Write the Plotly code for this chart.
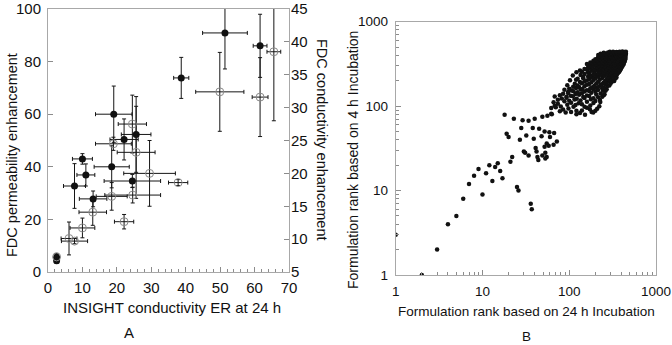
import plotly.graph_objects as go

# ---------------- Panel A data ----------------
# FDC permeability enhancement (filled circles, left axis)
perm_x = [2.5, 2.5, 7.7, 10, 11, 13.1, 18.5, 19.1, 22.1, 24.5, 25.6, 38.7, 51.4, 61.6]
perm_y = [4.3, 5.6, 32.7, 43, 36.9, 27.8, 40, 60, 50.4, 34.6, 52.3, 73.8, 90.9, 86]
perm_xerr = [0.3, 0.3, 3.2, 2.9, 2.6, 4, 5.1, 5.3, 4.1, 8.2, 4.3, 2.2, 6.5, 2]
perm_yerr = [1, 1.5, 8.5, 2, 4.2, 3, 8, 10.7, 7.8, 2.5, 14.4, 7.8, 13.7, 12]

# FDC conductivity enhancement (open circles, right axis)
cond_x = [2.5, 6.1, 7.7, 10, 13, 18.5, 19, 22.1, 24.5, 24.6, 25.6, 29.5, 37.8, 49.9, 61.6, 65.6]
cond_y = [7.3, 10.1, 9.7, 11.7, 14.1, 16.5, 24.5, 12.65, 27.5, 16.7, 23.2, 20, 18.6, 32.4, 31.6, 38.5]
cond_xerr = [0.3, 2.3, 3.8, 3.6, 4, 4.5, 5.2, 2.8, 4.1, 8.1, 5.5, 7.5, 2.8, 7, 2.3, 2]
cond_yerr_plus = [0.5, 2.5, 0.4, 1.5, 2, 2.1, 1, 1.1, 4.4, 1.2, 7, 5, 0.45, 6, 6, 7]
cond_yerr_minus = [0.5, 2.5, 0.4, 1.5, 2, 2.1, 1, 1.1, 4.4, 1.2, 7, 5, 0.45, 6, 6, 10.5]

# ---------------- Panel B data ----------------
rank_24h = [
    1, 2, 3, 4, 5, 6, 7, 8, 9, 10, 11, 12, 13, 14, 15, 16, 17, 21, 22, 25, 26, 36, 37,
    18, 23, 29, 34, 40, 49, 56, 63,
    19, 20, 28, 27, 32, 39, 38, 45, 48, 52, 59, 67, 60, 72, 66, 55, 52, 58, 41, 42, 53, 49, 55, 30, 31, 34, 43, 44, 53,
    62, 91, 121, 133, 152, 181,
    78, 105, 121, 189,
    85, 140, 173, 200,
    62, 70, 98, 112, 160, 210,
    68, 80, 118, 150, 175, 222,
    74, 95, 128, 140, 190,
    66, 88, 105, 160, 200, 228,
    74, 100, 115, 135, 178, 226,
    82, 93, 122, 150, 190, 215,
    68, 93, 110, 145, 170, 240,
    78, 104, 130, 160, 205, 250,
    85, 97, 118, 140, 180, 230, 255,
    97, 112, 125, 150, 170, 200, 245,
    88, 106, 135, 160, 190, 215, 262,
    100, 120, 142, 175, 205, 240, 270,
    111, 130, 150, 185, 220, 250, 275,
    95, 125, 160, 195, 230, 260, 290,
    116, 140, 170, 205, 235, 270, 300,
    133, 150, 180, 215, 250, 280, 310, 330,
    102, 120, 160, 190, 225, 260, 290, 320,
    125, 145, 170, 200, 240, 270, 300, 340,
    145, 165, 185, 215, 245, 280, 315, 350,
    110, 135, 175, 200, 230, 255, 290, 320, 355,
    150, 170, 190, 215, 240, 270, 300, 335, 365,
    121, 140, 165, 195, 225, 250, 280, 310, 340, 375,
    133, 161, 180, 205, 235, 260, 290, 320, 350, 385,
    150, 175, 195, 220, 245, 270, 300, 330, 360, 395,
    165, 185, 210, 230, 255, 285, 310, 340, 370, 405,
    170, 195, 220, 240, 265, 295, 320, 350, 380, 415,
    160, 185, 205, 230, 255, 280, 305, 335, 365, 400, 425,
    175, 200, 220, 245, 270, 290, 320, 350, 375, 410, 430,
    190, 210, 235, 255, 280, 300, 330, 360, 390, 420, 438,
    200, 225, 250, 270, 290, 315, 340, 370, 400, 430, 442,
    215, 240, 260, 285, 305, 330, 355, 385, 410, 435, 446,
    220, 250, 275, 300, 320, 345, 370, 395, 420, 440,
    216, 245, 270, 295, 315, 340, 365, 390, 415, 440, 448,
    230, 260, 290, 310, 335, 360, 380, 405, 430, 450,
    250, 280, 305, 330, 355, 375, 400, 425, 445,
    294, 320, 350, 380, 410, 435, 450,
]
rank_4h = [
    3, 1, 2, 4, 5, 8, 12, 15, 18, 9, 16, 20, 13, 19, 21, 17, 14, 22, 25, 11, 10, 7, 6,
    79, 71, 68, 67, 71, 75, 77, 80,
    47, 43, 55, 40, 45, 41, 55, 54, 44, 50, 49, 48, 43, 38, 35, 36, 33, 34, 32, 29, 28, 26, 25, 29, 28, 26, 25, 23, 24,
    81, 84, 80, 83, 79, 85,
    87, 85, 88, 84,
    91, 89, 92, 88,
    95, 97, 94, 98, 96, 93,
    101, 99, 103, 98, 102, 100,
    107, 104, 108, 105, 109,
    111, 114, 110, 113, 115, 112,
    119, 116, 120, 117, 121, 118,
    123, 126, 122, 125, 124, 127,
    130, 129, 131, 128, 132, 129,
    135, 133, 136, 134, 137, 135,
    140, 143, 139, 142, 144, 141, 138,
    147, 150, 146, 149, 151, 148, 152,
    156, 153, 157, 154, 158, 155, 152,
    161, 164, 160, 163, 165, 162, 159,
    170, 168, 172, 167, 171, 166, 173,
    177, 175, 179, 174, 178, 180, 176,
    184, 187, 183, 186, 182, 188, 185,
    193, 196, 192, 195, 191, 197, 194, 198,
    202, 205, 201, 204, 206, 200, 207, 203,
    211, 214, 210, 213, 215, 209, 216, 212,
    221, 224, 219, 223, 226, 220, 225, 218,
    231, 234, 229, 233, 236, 230, 235, 228, 237,
    241, 244, 239, 243, 246, 240, 245, 238, 247,
    252, 255, 250, 254, 257, 251, 256, 249, 258, 253,
    264, 267, 262, 266, 269, 263, 268, 261, 270, 265,
    276, 279, 274, 278, 281, 275, 280, 273, 282, 277,
    289, 292, 287, 291, 294, 288, 293, 286, 295, 290,
    302, 305, 300, 304, 307, 301, 306, 299, 308, 303,
    315, 318, 313, 317, 320, 314, 319, 312, 321, 316, 316,
    329, 332, 327, 331, 334, 328, 333, 326, 335, 330, 330,
    344, 347, 342, 346, 349, 343, 348, 341, 350, 345, 345,
    359, 362, 357, 361, 364, 358, 363, 356, 365, 360, 360,
    374, 377, 372, 376, 379, 373, 378, 371, 380, 375, 375,
    389, 392, 387, 391, 394, 388, 393, 386, 395, 390,
    404, 407, 402, 406, 409, 403, 408, 401, 410, 405, 405,
    417, 420, 415, 419, 422, 416, 421, 414, 423, 418,
    429, 432, 427, 431, 434, 428, 433, 426, 430,
    440, 442, 438, 441, 443, 439, 440,
]

log_ticks = [1, 10, 100, 1000]
log_ticktext = ["1", "10", "100", "1000"]

W, H = 672, 345
FONT = "Liberation Sans, Arial, Helvetica, sans-serif"
FRAME = "#a8a8a8"
TICKC = "#8c8c8c"

fig = go.Figure()

err_style = dict(type="data", color="#151515", thickness=1, width=2)

fig.add_trace(go.Scatter(
    x=cond_x, y=cond_y, mode="markers", xaxis="x", yaxis="y2",
    marker=dict(symbol="circle-open", color="#8a8a8a", size=8, line=dict(width=1)),
    error_x=dict(array=cond_xerr, **err_style),
    error_y=dict(array=cond_yerr_plus, arrayminus=cond_yerr_minus, symmetric=False, **err_style),
    showlegend=False, hoverinfo="skip"))

fig.add_trace(go.Scatter(
    x=perm_x, y=perm_y, mode="markers", xaxis="x", yaxis="y",
    marker=dict(symbol="circle", color="#111111", size=7),
    error_x=dict(array=perm_xerr, **err_style),
    error_y=dict(array=perm_yerr, **err_style),
    showlegend=False, hoverinfo="skip"))

fig.add_trace(go.Scatter(
    x=rank_24h, y=rank_4h, mode="markers", xaxis="x2", yaxis="y3",
    marker=dict(symbol="circle", color="#111111", size=4.5),
    showlegend=False, hoverinfo="skip"))

def px_x(p):
    return p / W

def px_y(p):
    return (H - p) / H

tickfont_a = dict(family=FONT, size=15, color="#111")
tickfont_b = dict(family=FONT, size=13.5, color="#111")

fig.update_layout(
    width=W, height=H,
    margin=dict(l=0, r=0, t=0, b=0),
    paper_bgcolor="white", plot_bgcolor="white",
    font=dict(family=FONT, color="#111"),
    xaxis=dict(
        domain=[px_x(48), px_x(289)], range=[0, 70], dtick=10, tick0=0,
        ticks="inside", ticklen=5, tickcolor=TICKC,
        minor=dict(dtick=2, ticks="inside", ticklen=3, tickcolor=TICKC, showgrid=False),
        showline=True, linecolor=FRAME, linewidth=1, mirror=True,
        showgrid=False, zeroline=False, anchor="y", tickfont=tickfont_a,
        automargin=False, ticklabelstandoff=2),
    yaxis=dict(
        domain=[px_y(272), px_y(9)], range=[0, 100], dtick=20, tick0=0,
        ticks="inside", ticklen=5, tickcolor=TICKC,
        showline=True, linecolor=FRAME, linewidth=1, mirror=True,
        showgrid=False, zeroline=False, anchor="x", tickfont=tickfont_a,
        automargin=False, ticklabelstandoff=3),
    yaxis2=dict(
        overlaying="y", side="right", anchor="x", range=[5, 45], dtick=5, tick0=5,
        ticks="inside", ticklen=5, tickcolor=TICKC,
        showline=False, showgrid=False, zeroline=False, tickfont=tickfont_a,
        automargin=False, ticklabelstandoff=1),
    xaxis2=dict(
        type="log", domain=[px_x(395.7), px_x(656)], range=[0, 3],
        tickvals=log_ticks, ticktext=log_ticktext,
        ticks="inside", ticklen=5, tickcolor=TICKC,
        minor=dict(ticks="inside", ticklen=3, tickcolor=TICKC, dtick="D1", showgrid=False),
        showline=True, linecolor=FRAME, linewidth=1, mirror=True,
        showgrid=False, zeroline=False, anchor="y3", tickfont=tickfont_b,
        automargin=False, ticklabelstandoff=4),
    yaxis3=dict(
        type="log", domain=[px_y(275), px_y(21.7)], range=[0, 3],
        tickvals=log_ticks, ticktext=log_ticktext,
        ticks="inside", ticklen=5, tickcolor=TICKC,
        minor=dict(ticks="inside", ticklen=3, tickcolor=TICKC, dtick="D1", showgrid=False),
        showline=True, linecolor=FRAME, linewidth=1, mirror=True,
        showgrid=False, zeroline=False, anchor="x2", tickfont=tickfont_b,
        automargin=False, ticklabelstandoff=4),
)

ann = [
    ("INSIGHT conductivity ER at 24 h", 172, 307, 0, 15),
    ("A", 129, 332, 0, 15),
    ("FDC permeability enhancement", 12, 155, -90, 14.5),
    ("FDC conductivity enhancement", 322, 140, 90, 14.5),
    ("Formulation rank based on 24 h Incubation", 526.7, 311.5, 0, 13.5),
    ("B", 526.7, 336.5, 0, 13.5),
    ("Formulation rank based on 4 h Incubation", 353, 160, -90, 14),
]
for text, x, y, ang, sz in ann:
    fig.add_annotation(
        text=text, x=px_x(x), y=px_y(y), xref="paper", yref="paper",
        xanchor="center", yanchor="middle", showarrow=False, textangle=ang,
        font=dict(family=FONT, size=sz, color="#111"))

fig.write_html("out.html")
